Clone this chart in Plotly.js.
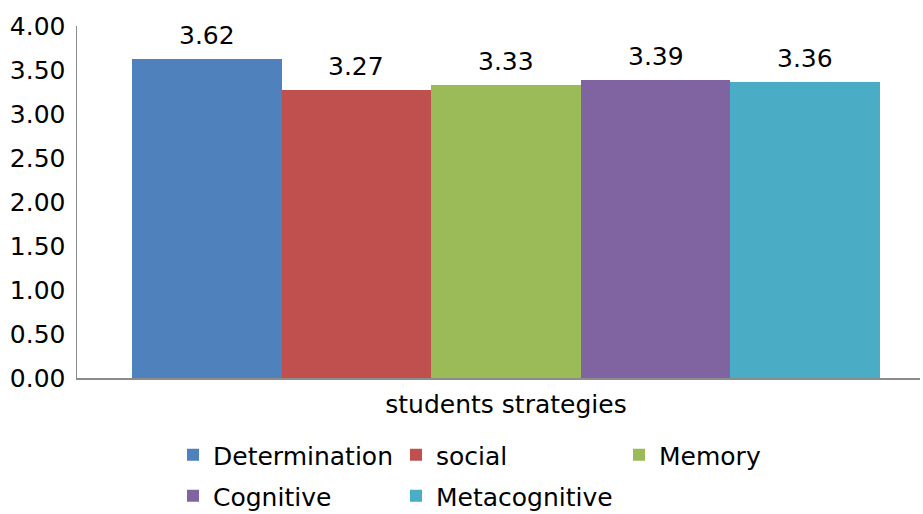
<!DOCTYPE html>
<html>
<head>
<meta charset="utf-8">
<script src="https://cdn.plot.ly/plotly-3.0.1.min.js"></script>
<style>html,body{margin:0;padding:0;background:#fff;}#chart{width:923px;height:514px;}</style>
</head>
<body>
<div id="chart"></div>
<script>
const category = ["students strategies"];
const seriesNames = ["Determination", "social", "Memory", "Cognitive", "Metacognitive"];
const seriesValues = [3.62, 3.27, 3.33, 3.39, 3.36];
const seriesColors = ["#4F81BD", "#C0504D", "#9BBB59", "#8064A2", "#4BACC6"];
const legendRow = ["legend", "legend", "legend", "legend2", "legend2"];
const yTicks = [0, 0.5, 1, 1.5, 2, 2.5, 3, 3.5, 4];
const yTickLabels = ["0.00", "0.50", "1.00", "1.50", "2.00", "2.50", "3.00", "3.50", "4.00"];

const FONT = "DejaVu Sans, Verdana, sans-serif";
const FS = 25;
const n = seriesNames.length;
const traces = seriesNames.map((name, i) => ({
  type: "bar",
  name: name,
  x: [0],
  y: [seriesValues[i]],
  marker: {color: seriesColors[i], line: {width: 0}},
  legend: legendRow[i],
  hoverinfo: "none"
}));

// value labels placed at each grouped bar's centre (group width 1, n equal slots)
const annotations = seriesNames.map((name, i) => ({
  xref: "x", yref: "y",
  x: (i - (n - 1) / 2) / n,
  y: seriesValues[i],
  text: seriesValues[i].toFixed(2),
  showarrow: false,
  yanchor: "bottom",
  yshift: 7,
  font: {family: FONT, size: FS, color: "#000"}
}));

const legendCommon = {
  orientation: "h",
  xref: "container", yref: "container",
  x: 173 / 923, xanchor: "left",
  yanchor: "middle",
  entrywidth: 178, entrywidthmode: "pixels",
  font: {family: FONT, size: FS, color: "#000"},
  traceorder: "normal",
  bgcolor: "rgba(0,0,0,0)"
};

const layout = {
  width: 923, height: 514,
  margin: {l: 77, r: 3, t: 26, b: 136},
  paper_bgcolor: "#fff", plot_bgcolor: "#fff",
  barmode: "group", bargap: 0, bargroupgap: 0,
  font: {family: FONT, size: FS, color: "#000"},
  annotations: annotations,
  xaxis: {
    range: [-0.5735, 0.5535],
    tickvals: [0], ticktext: category,
    showgrid: false, zeroline: false,
    showline: true, linecolor: "#8c8c8c", linewidth: 1.5,
    ticks: "",
    ticklabelstandoff: 3,
    tickfont: {family: FONT, size: FS, color: "#000"}
  },
  yaxis: {
    range: [0, 4],
    tickvals: yTicks, ticktext: yTickLabels,
    showgrid: false, zeroline: false,
    showline: true, linecolor: "#8c8c8c", linewidth: 1.5,
    ticks: "", ticklen: 0,
    ticklabelstandoff: 5,
    tickfont: {family: FONT, size: FS, color: "#000"}
  },
  showlegend: true,
  legend: Object.assign({}, legendCommon, {y: 1 - 455 / 514}),
  legend2: Object.assign({}, legendCommon, {y: 1 - 496 / 514})
};

Plotly.newPlot("chart", traces, layout, {displayModeBar: false, staticPlot: true});
</script>
</body>
</html>
